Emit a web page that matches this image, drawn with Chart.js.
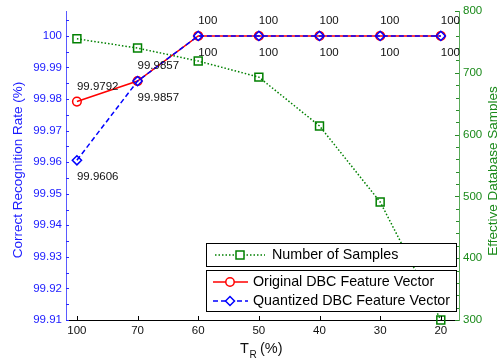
<!DOCTYPE html>
<html>
<head>
<meta charset="utf-8">
<script src="https://cdn.jsdelivr.net/npm/chart.js@4/dist/chart.umd.min.js"></script>
<style>
html,body{margin:0;padding:0;background:#fff;}
#wrap{width:497px;height:362px;position:relative;}
</style>
</head>
<body>
<div id="wrap"><canvas id="c" width="497" height="362"></canvas></div>
<script>
// ---- data ----
const xLabels = ['100', '70', '60', '50', '40', '30', '20'];
const originalRate = [99.9792, 99.9857, 100, 100, 100, 100, 100];
const quantizedRate = [99.9606, 99.9857, 100, 100, 100, 100, 100];
const sampleCount = [755, 740, 719, 693, 614, 491, 300];
const leftTicks = [99.91, 99.92, 99.93, 99.94, 99.95, 99.96, 99.97, 99.98, 99.99, 100];
const leftTickLabels = ['99.91', '99.92', '99.93', '99.94', '99.95', '99.96', '99.97', '99.98', '99.99', '100'];
const rightTicks = [300, 400, 500, 600, 700, 800];
const seriesNames = ['Number of Samples', 'Original DBC Feature Vector', 'Quantized DBC Feature Vector'];

const FONT = '"Liberation Sans", Arial, Helvetica, sans-serif';
const RED = '#ff0000', BLUE = '#0000ff', GREEN = '#008000';

const toPts = arr => arr.map((v, i) => ({x: i, y: v}));

function inwardTicks(chart) {
  const ctx = chart.ctx;
  const y = chart.scales.y, y1 = chart.scales.y1, x = chart.scales.x;
  const a = chart.chartArea;
  ctx.save();
  ctx.lineWidth = 1;
  ctx.strokeStyle = '#2a2aff';
  for (let v = 99.91; v <= 100.0051; v += 0.005) {
    const py = Math.round(y.getPixelForValue(v)) + 0.5;
    ctx.beginPath(); ctx.moveTo(a.left, py); ctx.lineTo(a.left + 3, py); ctx.stroke();
  }
  ctx.strokeStyle = '#2a8a2a';
  for (let v = 300; v <= 800; v += 20) {
    const py = Math.round(y1.getPixelForValue(v)) + 0.5;
    const len = (v % 100 === 0) ? 4 : 3;
    ctx.beginPath(); ctx.moveTo(a.right, py); ctx.lineTo(a.right - len, py); ctx.stroke();
  }
  ctx.strokeStyle = '#000';
  for (let i = 0; i < xLabels.length; i++) {
    const px = Math.round(x.getPixelForValue(i)) + 0.5;
    ctx.beginPath(); ctx.moveTo(px, a.bottom); ctx.lineTo(px, a.bottom - 4); ctx.stroke();
  }
  ctx.restore();
}

const decorPlugin = {
  id: 'decor',
  afterDatasetsDraw(chart) {
    const ctx = chart.ctx;
    inwardTicks(chart);
    // data labels
    ctx.save();
    ctx.font = '11.5px ' + FONT;
    ctx.fillStyle = '#111';
    ctx.textAlign = 'left';
    ctx.textBaseline = 'middle';
    const mR = chart.getDatasetMeta(1), mB = chart.getDatasetMeta(2);
    originalRate.forEach((v, i) => {
      const p = mR.data[i];
      ctx.fillText(String(v), p.x, p.y - 15);
    });
    quantizedRate.forEach((v, i) => {
      const p = mB.data[i];
      ctx.fillText(String(v), p.x, p.y + 17);
    });
    ctx.restore();

    // legend boxes
    ctx.save();
    ctx.fillStyle = '#fff';
    ctx.strokeStyle = '#000';
    ctx.lineWidth = 1;
    ctx.fillRect(206, 243, 250, 23); ctx.strokeRect(206.5, 243.5, 250, 23);
    ctx.fillRect(206, 270, 250, 41); ctx.strokeRect(206.5, 270.5, 250, 41);
    ctx.font = '14.3px ' + FONT;
    ctx.fillStyle = '#000';
    ctx.textBaseline = 'middle';
    ctx.textAlign = 'left';
    ctx.strokeStyle = GREEN; ctx.lineWidth = 1.5; ctx.setLineDash([1.5, 2]);
    ctx.beginPath(); ctx.moveTo(215, 255); ctx.lineTo(265, 255); ctx.stroke();
    ctx.setLineDash([]); ctx.fillStyle = '#fff';
    ctx.fillRect(236, 251, 8, 8); ctx.strokeRect(236, 251, 8, 8);
    ctx.fillStyle = '#000'; ctx.fillText(seriesNames[0], 272, 255);
    ctx.strokeStyle = RED; ctx.lineWidth = 1.5;
    ctx.beginPath(); ctx.moveTo(213, 282); ctx.lineTo(248, 282); ctx.stroke();
    ctx.fillStyle = '#fff';
    ctx.beginPath(); ctx.arc(230, 282, 4.2, 0, Math.PI * 2); ctx.fill(); ctx.stroke();
    ctx.fillStyle = '#000'; ctx.fillText(seriesNames[1], 253, 282);
    ctx.strokeStyle = BLUE; ctx.setLineDash([5, 3]);
    ctx.beginPath(); ctx.moveTo(213, 301); ctx.lineTo(248, 301); ctx.stroke();
    ctx.setLineDash([]); ctx.fillStyle = '#fff';
    ctx.beginPath(); ctx.moveTo(225.5, 301); ctx.lineTo(230, 296.5); ctx.lineTo(234.5, 301); ctx.lineTo(230, 305.5); ctx.closePath(); ctx.fill(); ctx.stroke();
    ctx.fillStyle = '#000'; ctx.fillText(seriesNames[2], 253, 301);
    ctx.restore();

    // axis titles
    ctx.save();
    ctx.textAlign = 'center'; ctx.textBaseline = 'middle';
    ctx.font = '13.5px ' + FONT;
    ctx.fillStyle = '#1a1aff';
    ctx.translate(18, 170); ctx.rotate(-Math.PI / 2);
    ctx.fillText('Correct Recognition Rate (%)', 0, 0);
    ctx.restore();
    ctx.save();
    ctx.textAlign = 'center'; ctx.textBaseline = 'middle';
    ctx.font = '13.5px ' + FONT;
    ctx.fillStyle = '#1a8a1a';
    ctx.translate(493, 171); ctx.rotate(-Math.PI / 2);
    ctx.fillText('Effective Database Samples', 0, 0);
    ctx.restore();
    ctx.save();
    ctx.fillStyle = '#111';
    ctx.textBaseline = 'alphabetic'; ctx.textAlign = 'left';
    ctx.font = '14.5px ' + FONT;
    ctx.fillText('T', 240, 353);
    ctx.font = '10px ' + FONT;
    ctx.fillText('R', 249.5, 358);
    ctx.font = '14.5px ' + FONT;
    ctx.fillText(' (%)', 256, 353);
    ctx.restore();
  }
};

new Chart(document.getElementById('c'), {
  type: 'line',
  data: {
    datasets: [
      {
        label: seriesNames[0], data: toPts(sampleCount), yAxisID: 'y1', order: 2,
        borderColor: GREEN, borderWidth: 1.5, borderDash: [1.5, 2],
        pointStyle: 'rect', pointRadius: 5.6, pointBorderWidth: 1.5,
        pointBorderColor: GREEN, pointBackgroundColor: 'rgba(255,255,255,0)',
        fill: false, tension: 0, clip: false
      },
      {
        label: seriesNames[1], data: toPts(originalRate), yAxisID: 'y', order: 1,
        borderColor: RED, borderWidth: 1.5,
        pointStyle: 'circle', pointRadius: 4.3, pointBorderWidth: 1.5,
        pointBorderColor: RED, pointBackgroundColor: 'rgba(255,255,255,0)',
        fill: false, tension: 0, clip: false
      },
      {
        label: seriesNames[2], data: toPts(quantizedRate), yAxisID: 'y', order: 0,
        borderColor: BLUE, borderWidth: 1.5, borderDash: [5, 3],
        pointStyle: 'rectRot', pointRadius: 4.6, pointBorderWidth: 1.5,
        pointBorderColor: BLUE, pointBackgroundColor: 'rgba(255,255,255,0)',
        fill: false, tension: 0, clip: false
      }
    ]
  },
  options: {
    responsive: false,
    animation: false,
    events: [],
    layout: {padding: {top: 11, left: 0, right: 0, bottom: 0}},
    plugins: {legend: {display: false}, tooltip: {enabled: false}},
    scales: {
      x: {
        type: 'linear', min: -0.18, max: 6.3,
        grid: {display: false, drawTicks: false},
        border: {display: true, color: '#000', width: 1},
        afterBuildTicks: s => { s.ticks = xLabels.map((_, i) => ({value: i})); },
        afterFit: s => { s.height = 42; },
        ticks: {
          autoSkip: false, maxRotation: 0, padding: 4, color: '#111',
          font: {family: FONT, size: 11.5},
          callback: v => xLabels[v]
        }
      },
      y: {
        type: 'linear', position: 'left', min: 99.91, max: 100.0079,
        grid: {display: false, drawTicks: false},
        border: {display: true, color: '#5a5aff', width: 1},
        afterBuildTicks: s => { s.ticks = leftTicks.map(v => ({value: v})); },
        afterFit: s => { s.width = 66; },
        ticks: {
          autoSkip: false, padding: 4, color: '#1a1aff',
          font: {family: FONT, size: 11.5},
          callback: (v, i) => leftTickLabels[i]
        }
      },
      y1: {
        type: 'linear', position: 'right', min: 300, max: 800,
        grid: {display: false, drawTicks: false},
        border: {display: true, color: '#5aaa5a', width: 1},
        afterBuildTicks: s => { s.ticks = rightTicks.map(v => ({value: v})); },
        afterFit: s => { s.width = 38; },
        ticks: {
          autoSkip: false, padding: 4, color: '#1a8a1a',
          font: {family: FONT, size: 11.5},
          callback: (v, i) => String(rightTicks[i])
        }
      }
    }
  },
  plugins: [decorPlugin]
});
</script>
</body>
</html>
